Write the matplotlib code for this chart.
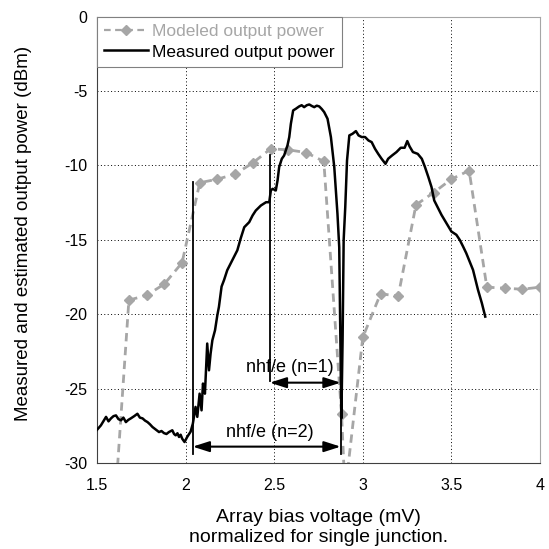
import numpy as np
import matplotlib
matplotlib.use("Agg")
import matplotlib.pyplot as plt
from matplotlib.lines import Line2D

plt.rcParams['font.family'] = ['Liberation Sans', 'DejaVu Sans']

# ---------------- data ----------------
model_x = [1.60, 1.68, 1.78, 1.88, 1.98, 2.08, 2.18, 2.28, 2.38, 2.48, 2.58, 2.68, 2.78,
           2.88, 2.90, 3.00, 3.10, 3.20, 3.30, 3.40, 3.50, 3.60, 3.70, 3.80, 3.90, 4.00]
model_y = [-33.0, -19.05, -18.73, -17.97, -16.54, -11.16, -10.92, -10.58, -9.82, -8.88, -8.95,
           -9.13, -9.73, -26.7, -32.0, -21.55, -18.63, -18.77, -12.65, -11.82, -10.92, -10.34,
           -18.18, -18.25, -18.32, -18.18]

meas_x = [1.500, 1.522, 1.551, 1.565, 1.579, 1.593, 1.607, 1.621, 1.635, 1.649, 1.663, 1.677,
          1.691, 1.710, 1.728, 1.742, 1.757, 1.771, 1.785, 1.799, 1.813, 1.832, 1.850, 1.864,
          1.878, 1.892, 1.906, 1.925, 1.935, 1.944, 1.954, 1.963, 1.972, 1.981, 1.994, 2.009,
          2.020, 2.028, 2.041, 2.056, 2.066, 2.079, 2.090, 2.098, 2.109, 2.122, 2.132, 2.141,
          2.151, 2.166, 2.179, 2.188, 2.203, 2.217, 2.235, 2.254, 2.273, 2.292, 2.311, 2.331,
          2.359, 2.378, 2.396, 2.425, 2.454, 2.472, 2.481, 2.491, 2.509, 2.519, 2.528, 2.543,
          2.556, 2.575, 2.585, 2.594, 2.607, 2.622, 2.641, 2.655, 2.669, 2.684, 2.698, 2.712,
          2.726, 2.740, 2.754, 2.768, 2.782, 2.801, 2.820, 2.839, 2.857, 2.867, 2.873, 2.879,
          2.886, 2.892, 2.901, 2.911, 2.924, 2.942, 2.961, 2.976, 2.994, 3.013, 3.032, 3.050,
          3.069, 3.087, 3.106, 3.128, 3.143, 3.165, 3.190, 3.214, 3.236, 3.251, 3.264, 3.283,
          3.310, 3.333, 3.351, 3.370, 3.388, 3.403, 3.422, 3.444, 3.472, 3.500, 3.528, 3.547,
          3.566, 3.584, 3.603, 3.622, 3.650, 3.672, 3.691]
meas_y = [-27.77, -27.47, -26.90, -27.20, -27.00, -26.85, -26.80, -27.05, -27.13, -26.95, -27.25,
          -27.10, -27.00, -26.85, -26.69, -26.95, -27.00, -27.15, -27.25, -27.40, -27.58, -27.75,
          -27.92, -27.85, -27.99, -28.05, -27.92, -27.80, -28.05, -28.14, -28.00, -28.25, -28.10,
          -28.37, -28.59, -28.25, -28.05, -27.90, -27.35, -26.23, -26.90, -25.34, -26.46, -24.66,
          -25.34, -21.97, -23.77, -22.65, -21.75, -21.08, -20.07, -19.51, -18.14, -17.70, -17.04,
          -16.59, -16.14, -15.70, -14.90, -14.15, -13.81, -13.36, -13.03, -12.69, -12.47, -12.47,
          -11.68, -11.57, -11.68, -11.00, -10.11, -9.55, -9.33, -8.65, -8.09, -7.20, -6.30, -6.19,
          -6.03, -5.95, -6.08, -5.95, -5.90, -6.00, -6.08, -5.98, -6.03, -6.20, -6.41, -6.86,
          -8.09, -10.11, -13.25, -15.50, -21.30, -27.00, -21.70, -15.00, -12.80, -9.66, -7.98,
          -7.87, -7.69, -7.98, -8.09, -8.09, -8.32, -8.43, -8.88, -9.22, -9.55, -9.89, -9.55,
          -9.33, -9.10, -8.81, -8.81, -8.36, -8.72, -9.10, -9.22, -9.55, -10.11, -10.78, -11.46,
          -12.35, -12.80, -13.32, -13.88, -14.44, -14.66, -15.00, -15.45, -15.90, -16.46, -17.02,
          -18.36, -19.26, -20.16]

x_ticks = [1.5, 2, 2.5, 3, 3.5, 4]
x_ticklabels = ['1.5', '2', '2.5', '3', '3.5', '4']
y_ticks = [0, -5, -10, -15, -20, -25, -30]
y_ticklabels = ['0', '-5', '-10', '-15', '-20', '-25', '-30']

# annotation markers (voltages of nhf/e limits)
v_n2_start = 2.04
v_n1_start = 2.475
v_end = 2.875
line1_y = (-11.1, -29.4)
line2_y = (-9.3, -24.5)
line3_y = (-22.0, -29.4)
arrow1_y = -24.6
arrow2_y = -28.9

GRAY = '#a6a6a6'

# ---------------- figure ----------------
fig = plt.figure(figsize=(5.49, 5.49), dpi=100)
ax = fig.add_axes([97/549, 1-463/549, (540-97)/549, (463-16.7)/549])
ax.set_xlim(1.5, 4)
ax.set_ylim(-30, 0)

ax.set_xticks(x_ticks)
ax.set_xticklabels(x_ticklabels)
ax.set_yticks(y_ticks)
ax.set_yticklabels(y_ticklabels)
ax.tick_params(axis='both', length=0, labelsize=11.5)
ax.tick_params(axis='x', pad=11)
ax.tick_params(axis='y', pad=7)
ax.grid(True, color='black', linestyle=(0, (1, 2.5)), linewidth=0.7)
ax.set_axisbelow(True)
for s in ['left', 'bottom']:
    ax.spines[s].set_color('#404040')
for s in ['top', 'right']:
    ax.spines[s].set_color(GRAY)

# modeled
ax.plot(model_x, model_y, color=GRAY, lw=2.0, linestyle=(0, (3, 2)), marker='D',
        markersize=5.5, markeredgecolor=GRAY, zorder=4)

# measured
ax.plot(meas_x, meas_y, color='black', lw=1.8, zorder=5)

# annotation lines
ax.plot([v_n2_start, v_n2_start], line1_y, color='black', lw=1.3, zorder=6)
ax.plot([v_n1_start, v_n1_start], line2_y, color='black', lw=1.3, zorder=6)
ax.plot([v_end, v_end], line3_y, color='black', lw=1.3, zorder=6)

arrow_kw = dict(arrowstyle='<|-|>,head_length=1.0,head_width=0.32', color='black', lw=1.5,
                shrinkA=0, shrinkB=0)
ax.annotate('', xy=(v_n1_start, arrow1_y), xytext=(v_end, arrow1_y), arrowprops=arrow_kw, zorder=7)
ax.annotate('', xy=(v_n2_start, arrow2_y), xytext=(v_end, arrow2_y), arrowprops=arrow_kw, zorder=7)
ax.text(2.59, -23.55, 'nhf/e (n=1)', ha='center', va='center', fontsize=13)
ax.text(2.475, -27.95, 'nhf/e (n=2)', ha='center', va='center', fontsize=13)

# labels
ax.set_ylabel('Measured and estimated output power (dBm)', fontsize=13.5)
ax.yaxis.set_label_coords(-0.147, 0.514)
ax.set_xlabel('Array bias voltage (mV)\nnormalized for single junction.', fontsize=14,
              linespacing=1.3)
ax.xaxis.set_label_coords(0.5, -0.102)

# legend
handles = [Line2D([], [], color=GRAY, lw=1.6, linestyle=(0, (3, 2)), marker='D', markersize=5.5),
           Line2D([], [], color='black', lw=1.8)]
leg = ax.legend(handles, ['Modeled output power', 'Measured output power'], loc='upper left',
                bbox_to_anchor=(0, 1), borderaxespad=0, fancybox=False, framealpha=1,
                edgecolor='#808080', fontsize=12.5, handlelength=2.5, handletextpad=0.25,
                borderpad=0.42, labelspacing=0.3)
leg.get_frame().set_linewidth(0.8)
leg.get_texts()[0].set_color(GRAY)
leg.get_texts()[1].set_color('black')
leg.set_zorder(10)

fig.savefig('out.png', dpi=100)
